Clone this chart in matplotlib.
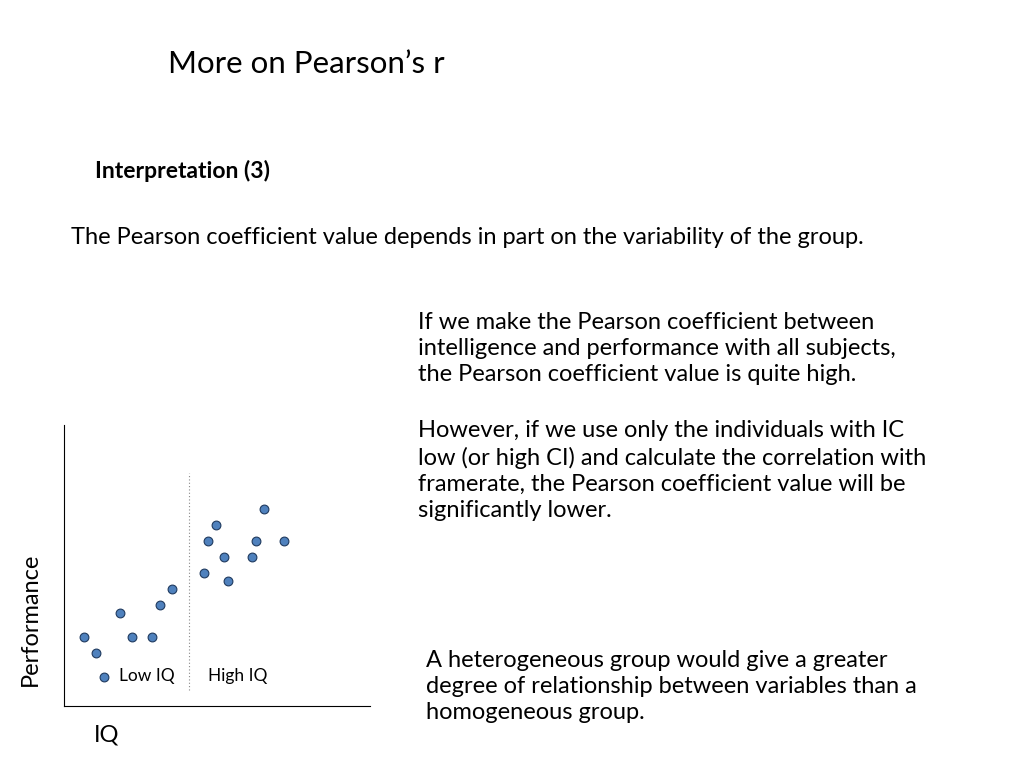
import matplotlib
matplotlib.use("Agg")
import matplotlib.pyplot as plt

plt.rcParams["font.family"] = "Lato"

# --- scatter data (arbitrary units) ---
iq = [20, 32, 40, 56, 68, 88, 96, 108, 140, 144, 152, 160, 164, 188, 192, 200, 220]
performance = [69, 53, 29, 93, 69, 69, 101, 117, 133, 165, 181, 149, 125, 149, 165, 197, 165]
split_iq = 125

fig = plt.figure(figsize=(10.24, 7.68), dpi=100)

# --- slide text ---
fig.text(168/1024, 1 - 64/768, "More on Pearson\u2019s r", fontsize=22.5, va="center")
fig.text(95/1024, 1 - 171/768, "Interpretation (3)", fontsize=16.5, fontweight="bold", va="center")
fig.text(71/1024, 1 - 237/768,
         "The Pearson coefficient value depends in part on the variability of the group.",
         fontsize=17, va="center")
fig.text(418/1024, 1 - 312/768,
         "If we make the Pearson coefficient between\nintelligence and performance with all subjects,\n"
         "the Pearson coefficient value is quite high.",
         fontsize=17, va="top", linespacing=1.3)
fig.text(418/1024, 1 - 420/768,
         "However, if we use only the individuals with IC\nlow (or high CI) and calculate the correlation with\n"
         "framerate, the Pearson coefficient value will be\nsignificantly lower.",
         fontsize=17, va="top", linespacing=1.3)
fig.text(426/1024, 1 - 650/768,
         "A heterogeneous group would give a greater\ndegree of relationship between variables than a\n"
         "homogeneous group.",
         fontsize=17, va="top", linespacing=1.3)

# --- scatter plot ---
ax = fig.add_axes([64/1024, 62/768, 306/1024, 281/768])
ax.scatter(iq, performance, s=40, color="#4f81bd", edgecolor="#1f3a5f", linewidth=0.8, zorder=3)
ax.plot([split_iq, split_iq], [16, 233], linestyle=(0, (1, 2)), color="#888888", linewidth=0.8)
ax.text(83, 30, "Low IQ", fontsize=12.5, ha="center", va="center")
ax.text(174, 30, "High IQ", fontsize=12.5, ha="center", va="center")
ax.set_xlim(0, 306)
ax.set_ylim(0, 281)
ax.set_xticks([])
ax.set_yticks([])
for side in ["top", "right"]:
    ax.spines[side].set_visible(False)
ax.set_xlabel("IQ", fontsize=17)
ax.xaxis.set_label_coords(0.14, -0.065)
ax.set_ylabel("Performance", fontsize=17)
ax.yaxis.set_label_coords(-0.075, 0.31)

fig.savefig("out.png", dpi=100)
